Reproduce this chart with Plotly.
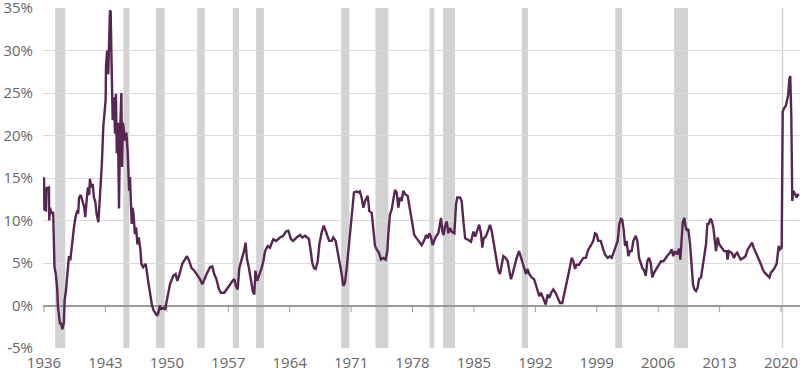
import plotly.graph_objects as go

# Year-over-year growth (%)
years = [
    1936.00, 1936.05, 1936.23, 1936.30, 1936.57, 1936.60, 1936.70, 1936.86, 1937.05, 1937.10,
    1937.20, 1937.35, 1937.50, 1937.60, 1937.72, 1937.83, 1937.92, 1938.00, 1938.10, 1938.27,
    1938.35, 1938.50, 1938.77, 1938.85, 1939.00, 1939.15, 1939.30, 1939.42, 1939.60, 1939.80,
    1939.90, 1940.00, 1940.20, 1940.40, 1940.60, 1940.70, 1940.87, 1941.00, 1941.15, 1941.24,
    1941.40, 1941.55, 1941.70, 1941.85, 1942.00, 1942.20, 1942.30, 1942.46, 1942.60, 1942.76,
    1942.90, 1943.03, 1943.07, 1943.20, 1943.33, 1943.40, 1943.52, 1943.60, 1943.75, 1943.83,
    1943.98, 1944.10, 1944.20, 1944.30, 1944.43, 1944.55, 1944.67, 1944.75, 1944.82, 1944.90,
    1945.00, 1945.10, 1945.20, 1945.30, 1945.40, 1945.55, 1945.62, 1945.70, 1945.80, 1945.90,
    1946.00, 1946.10, 1946.20, 1946.37, 1946.50, 1946.65, 1946.80, 1947.00, 1947.10, 1947.30,
    1947.60, 1947.87, 1948.10, 1948.30, 1948.50, 1948.90, 1949.05, 1949.20, 1949.35, 1949.60,
    1949.80, 1950.10, 1950.36, 1950.74, 1951.00, 1951.20, 1951.40, 1951.76, 1952.07, 1952.30,
    1952.50, 1952.83, 1953.13, 1953.40, 1953.78, 1954.04, 1954.25, 1954.54, 1954.92, 1955.18,
    1955.40, 1955.65, 1955.95, 1956.17, 1956.55, 1956.80, 1957.20, 1957.50, 1957.70, 1957.88,
    1958.07, 1958.26, 1958.52, 1958.80, 1958.98, 1959.12, 1959.36, 1959.60, 1959.80, 1959.97,
    1960.10, 1960.30, 1960.52, 1960.80, 1961.00, 1961.20, 1961.50, 1961.75, 1962.13, 1962.45,
    1962.90, 1963.27, 1963.58, 1963.85, 1964.15, 1964.40, 1964.80, 1965.18, 1965.45, 1965.75,
    1966.00, 1966.20, 1966.40, 1966.58, 1966.77, 1966.96, 1967.20, 1967.38, 1967.65, 1967.88,
    1968.03, 1968.29, 1968.50, 1968.79, 1968.98, 1969.24, 1969.47, 1969.74, 1969.93, 1970.11,
    1970.30, 1970.50, 1970.68, 1970.91, 1971.14, 1971.33, 1971.64, 1971.90, 1972.00, 1972.20,
    1972.40, 1972.60, 1972.90, 1973.08, 1973.35, 1973.53, 1973.73, 1973.92, 1974.18, 1974.41,
    1974.67, 1974.94, 1975.13, 1975.25, 1975.43, 1975.63, 1975.81, 1976.00, 1976.20, 1976.38,
    1976.55, 1976.77, 1976.95, 1977.15, 1977.45, 1977.70, 1977.90, 1978.20, 1978.47, 1978.85,
    1979.05, 1979.35, 1979.55, 1979.73, 1979.90, 1980.10, 1980.30, 1980.50, 1980.67, 1980.94,
    1981.10, 1981.25, 1981.40, 1981.55, 1981.70, 1981.90, 1982.08, 1982.27, 1982.47, 1982.77,
    1982.96, 1983.10, 1983.41, 1983.60, 1983.80, 1984.00, 1984.37, 1984.67, 1984.94, 1985.15,
    1985.40, 1985.60, 1985.80, 1985.96, 1986.10, 1986.34, 1986.64, 1986.83, 1987.00, 1987.20,
    1987.40, 1987.60, 1987.78, 1987.97, 1988.17, 1988.35, 1988.60, 1988.85, 1989.03, 1989.22,
    1989.40, 1989.60, 1989.87, 1990.14, 1990.36, 1990.52, 1990.74, 1990.94, 1991.10, 1991.30,
    1991.58, 1991.85, 1992.04, 1992.27, 1992.45, 1992.64, 1992.84, 1993.00, 1993.18, 1993.40,
    1993.60, 1993.80, 1994.05, 1994.30, 1994.55, 1994.81, 1995.07, 1995.25, 1995.45, 1995.69,
    1995.92, 1996.14, 1996.33, 1996.52, 1996.70, 1996.97, 1997.20, 1997.47, 1997.75, 1998.04,
    1998.30, 1998.60, 1998.80, 1998.97, 1999.17, 1999.45, 1999.74, 1999.94, 2000.24, 2000.50,
    2000.70, 2000.97, 2001.16, 2001.38, 2001.57, 2001.76, 2001.90, 2002.07, 2002.22, 2002.40,
    2002.60, 2002.78, 2002.98, 2003.17, 2003.44, 2003.62, 2003.82, 2004.00, 2004.20, 2004.40,
    2004.58, 2004.76, 2004.95, 2005.15, 2005.33, 2005.55, 2005.82, 2006.05, 2006.32, 2006.60,
    2006.85, 2007.15, 2007.35, 2007.54, 2007.72, 2007.92, 2008.15, 2008.37, 2008.52, 2008.67,
    2008.80, 2008.98, 2009.13, 2009.28, 2009.43, 2009.63, 2009.82, 2009.97, 2010.12, 2010.31,
    2010.50, 2010.65, 2010.88, 2011.05, 2011.26, 2011.45, 2011.60, 2011.77, 2011.94, 2012.09,
    2012.28, 2012.40, 2012.59, 2012.78, 2012.95, 2013.24, 2013.50, 2013.80, 2013.90, 2014.05,
    2014.38, 2014.63, 2014.80, 2015.00, 2015.20, 2015.40, 2015.70, 2015.95, 2016.20, 2016.45,
    2016.70, 2016.88, 2017.05, 2017.30, 2017.54, 2017.73, 2017.90, 2018.10, 2018.30, 2018.48,
    2018.67, 2018.85, 2019.05, 2019.31, 2019.50, 2019.60, 2019.73, 2019.88, 2020.07, 2020.19,
    2020.34, 2020.55, 2020.71, 2020.82, 2020.94, 2021.05, 2021.17, 2021.28, 2021.40, 2021.60,
    2021.78, 2021.90, 2022.00,
]
growth = [
    15.1, 11.3, 11.2, 13.8, 13.9, 10.0, 11.5, 10.8, 11.0, 8.4,
    4.5, 3.7, 2.1, -0.2, -1.8, -2.2, -2.0, -2.5, -2.8, -2.0,
    0.6, 1.7, 4.5, 5.8, 5.3, 6.8, 8.4, 9.2, 10.4, 11.2,
    10.8, 12.7, 13.0, 12.2, 11.5, 10.4, 12.2, 13.9, 13.0, 14.9,
    13.9, 14.3, 12.7, 12.2, 10.8, 9.8, 11.5, 13.9, 16.7, 21.0,
    23.4, 24.2, 28.1, 30.0, 27.2, 29.5, 34.7, 34.6, 26.1, 21.8,
    24.5, 20.2, 24.9, 17.9, 21.5, 11.4, 20.2, 24.5, 25.0, 16.3,
    21.5, 20.7, 19.4, 20.2, 20.2, 17.9, 15.5, 13.5, 15.1, 12.3,
    9.6, 11.5, 10.8, 8.4, 9.2, 7.2, 8.0, 6.5, 4.9, 4.5,
    4.9, 2.9, 1.3, 0.1, -0.6, -1.2, -0.8, 0.0, -0.4, -0.3,
    -0.5, 1.3, 2.5, 3.5, 3.7, 2.9, 3.5, 4.9, 5.4, 5.8,
    5.4, 4.4, 4.1, 3.7, 3.1, 2.5, 3.1, 3.7, 4.5, 4.6,
    3.7, 3.1, 1.9, 1.5, 1.5, 1.9, 2.5, 2.9, 3.1, 2.3,
    1.9, 4.4, 5.4, 6.4, 7.4, 5.6, 4.4, 2.9, 1.7, 1.3,
    4.1, 2.9, 3.5, 4.4, 5.2, 6.4, 7.0, 6.8, 7.8, 7.6,
    8.0, 8.2, 8.7, 8.8, 7.8, 7.6, 8.0, 8.3, 8.0, 8.2,
    8.0, 7.8, 6.4, 5.0, 4.4, 4.3, 5.2, 7.2, 8.6, 9.4,
    9.0, 8.2, 7.6, 7.6, 8.0, 7.6, 6.4, 4.8, 3.7, 2.3,
    2.7, 4.4, 6.4, 8.8, 11.1, 13.3, 13.4, 13.3, 13.4, 12.7,
    11.5, 12.3, 12.9, 11.1, 10.9, 9.1, 7.0, 6.6, 6.2, 5.4,
    5.6, 5.4, 6.4, 8.5, 10.7, 11.3, 12.5, 13.6, 13.3, 11.5,
    12.7, 12.3, 13.5, 13.1, 12.9, 11.5, 9.9, 8.3, 7.9, 7.3,
    7.1, 7.7, 8.3, 7.9, 8.5, 8.1, 7.1, 7.7, 8.1, 8.5,
    9.3, 10.3, 8.7, 8.3, 9.3, 9.9, 8.5, 9.1, 8.7, 8.5,
    11.9, 12.7, 12.7, 12.3, 9.9, 7.9, 7.7, 7.5, 8.7, 8.1,
    8.9, 9.5, 8.5, 6.8, 7.9, 8.1, 8.9, 9.5, 8.9, 7.7,
    6.4, 5.2, 4.1, 3.7, 5.0, 5.8, 5.6, 5.2, 4.1, 3.1,
    3.7, 4.6, 5.6, 6.4, 5.6, 5.0, 4.3, 3.7, 4.3, 3.7,
    3.3, 3.1, 2.5, 1.7, 1.1, 1.5, 0.9, 0.5, 0.1, 1.3,
    0.9, 1.5, 1.9, 1.5, 0.9, 0.3, 0.3, 1.1, 2.1, 3.3,
    4.4, 5.6, 5.2, 4.3, 4.8, 4.8, 5.2, 5.6, 5.6, 6.6,
    7.0, 7.6, 8.5, 8.4, 7.6, 7.6, 6.6, 6.0, 5.6, 5.8,
    5.6, 6.4, 7.2, 7.6, 9.6, 10.2, 10.1, 8.9, 7.0, 7.6,
    5.8, 6.4, 6.4, 7.6, 8.2, 7.6, 5.6, 5.0, 4.4, 4.1,
    3.5, 5.2, 5.6, 5.0, 3.3, 3.9, 4.4, 4.8, 5.2, 5.2,
    5.6, 6.0, 6.2, 6.6, 5.8, 6.4, 6.0, 6.7, 5.4, 7.6,
    9.8, 10.3, 9.2, 8.8, 9.0, 7.2, 4.8, 2.5, 1.9, 1.7,
    2.1, 3.1, 3.3, 4.4, 5.6, 7.2, 9.6, 9.6, 10.2, 10.0,
    9.2, 8.0, 6.4, 8.0, 7.2, 6.8, 6.4, 6.4, 5.4, 6.4,
    6.2, 5.6, 6.0, 6.2, 5.8, 5.4, 5.6, 5.8, 6.6, 7.0,
    7.4, 6.8, 6.4, 6.0, 5.4, 4.8, 4.3, 3.9, 3.7, 3.5,
    3.3, 3.9, 4.1, 4.5, 4.9, 5.8, 7.0, 6.6, 6.8, 22.8,
    23.2, 23.5, 24.6, 24.8, 26.6, 27.0, 22.2, 12.3, 13.5, 13.1,
    12.7, 13.1, 12.9,
]

# Recession periods (start, end) in decimal years
rec_start = [1937.27, 1945.05, 1948.77, 1953.45, 1957.52, 1960.18, 1969.87, 1973.78,
             1979.93, 1981.48, 1990.46, 2001.10, 2007.82, 2020.08]
rec_end = [1938.43, 1945.73, 1949.76, 1954.32, 1958.23, 1961.07, 1970.80, 1975.24,
           1980.48, 1982.84, 1991.16, 2001.88, 2009.40, 2020.25]

x_ticks = [1936, 1943, 1950, 1957, 1964, 1971, 1978, 1985, 1992, 1999, 2006, 2013, 2020]
y_ticks = [-5, 0, 5, 10, 15, 20, 25, 30, 35]
y_labels = [f"{v}%" for v in y_ticks]

fig = go.Figure()

for s, e in zip(rec_start, rec_end):
    fig.add_vrect(x0=s, x1=e, fillcolor="#d2d2d2", opacity=1, line_width=0, layer="below")

# small tick marks hanging from the zero line
for t in x_ticks:
    fig.add_shape(type="line", x0=t, x1=t, y0=0, y1=-0.8, xref="x", yref="y",
                  line=dict(color="#9a9a9a", width=1), layer="below")

fig.add_trace(go.Scatter(
    x=years, y=growth, mode="lines",
    line=dict(color="#582652", width=2.4),
    hoverinfo="skip", showlegend=False,
))

font = dict(family="Open Sans, sans-serif", size=15, color="#666666")

fig.update_layout(
    width=800, height=376,
    margin=dict(l=43, r=0, t=8, b=28),
    paper_bgcolor="white", plot_bgcolor="white",
    showlegend=False,
    font=font,
)
fig.update_xaxes(
    range=[1935.89, 2022.16],
    tickvals=x_ticks, ticktext=[str(t) for t in x_ticks],
    showgrid=False, zeroline=False, showline=False, ticks="",
    tickfont=font, ticklabelstandoff=4, automargin=False, ticklabeloverflow="allow",
)
fig.update_yaxes(
    range=[-5, 35],
    tickvals=y_ticks, ticktext=y_labels,
    showgrid=True, gridcolor="#dadada", gridwidth=1,
    zeroline=True, zerolinecolor="#9a9a9a", zerolinewidth=2,
    showline=False, ticks="", tickfont=font, ticklabelstandoff=9, automargin=False,
    ticklabeloverflow="allow",
)

fig.write_html(
    "out.html",
    config={"displayModeBar": False},
    post_script="document.body.style.margin='0';document.body.style.overflow='hidden';",
)
